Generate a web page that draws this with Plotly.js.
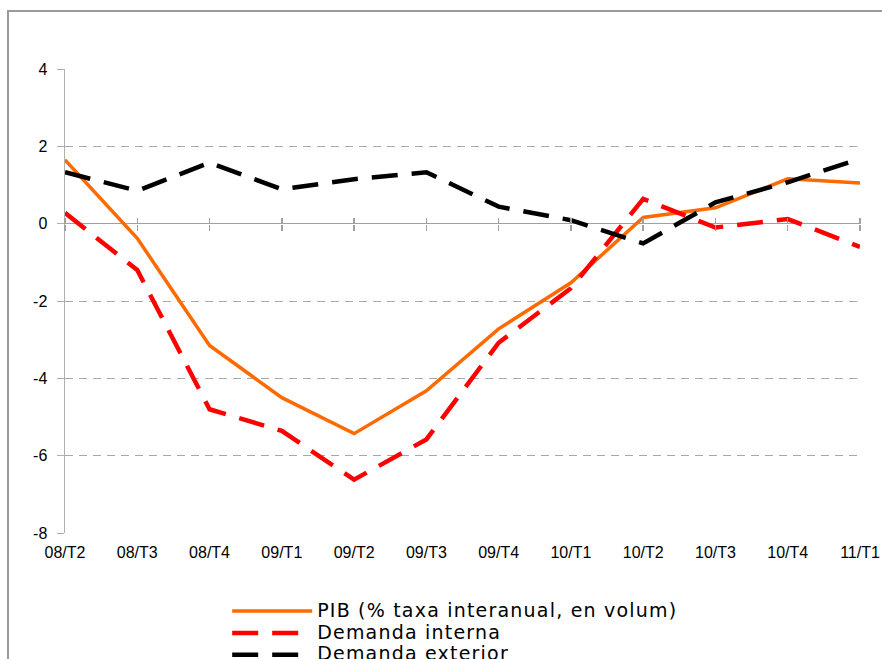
<!DOCTYPE html>
<html>
<head>
<meta charset="utf-8">
<script src="https://cdn.plot.ly/plotly-3.0.1.min.js"></script>
<style>
  html, body { margin: 0; padding: 0; background: #fff; overflow: hidden; }
  #wrap { position: relative; width: 882px; height: 659px; }
  #chart { width: 882px; height: 659px; }
  #frame { position: absolute; left: 7px; top: 10px; width: 900px; height: 700px;
           border-left: 2px solid #9a9a9a; border-top: 2px solid #9a9a9a; pointer-events: none; }
  .legendtext { letter-spacing: 1.2px; font-size: 19px !important; }
</style>
</head>
<body>
<div id="wrap">
  <div id="chart"></div>
  <div id="frame"></div>
</div>
<script>
const categories = ["08/T2","08/T3","08/T4","09/T1","09/T2","09/T3","09/T4","10/T1","10/T2","10/T3","10/T4","11/T1"];
const pib      = [1.65, -0.38, -3.15, -4.50, -5.43, -4.32, -2.72, -1.53, 0.16, 0.41, 1.16, 1.05];
const interna  = [0.28, -1.20, -4.80, -5.36, -6.62, -5.58, -3.08, -1.67, 0.64, -0.10, 0.12, -0.60];
const exterior = [1.33, 0.85, 1.58, 0.89, 1.15, 1.33, 0.44, 0.09, -0.51, 0.55, 1.07, 1.68];
const seriesNames = ["PIB (% taxa interanual, en volum)", "Demanda interna", "Demanda exterior"];
const yTicks = [-8, -6, -4, -2, 0, 2, 4];

const traces = [
  { x: categories, y: pib, name: seriesNames[0], type: "scatter", mode: "lines",
    line: { color: "#ff6a00", width: 3.5 } },
  { x: categories, y: interna, name: seriesNames[1], type: "scatter", mode: "lines",
    line: { color: "#ff0000", width: 4.5, dash: "26px,14px" } },
  { x: categories, y: exterior, name: seriesNames[2], type: "scatter", mode: "lines",
    line: { color: "#000000", width: 4.5, dash: "26px,14px" } }
];

const tickAxis = {
  type: "linear", range: [0, categories.length - 1], dtick: 1, tick0: 0,
  overlaying: "x", anchor: "free", position: 2/3,
  showticklabels: false, showgrid: false, zeroline: false, showline: false,
  ticks: "outside", ticklen: 6, tickwidth: 1.5, tickcolor: "#a0a0a0"
};

const layout = {
  width: 882, height: 659,
  margin: { l: 65, r: 22, t: 69, b: 126, autoexpand: false },
  paper_bgcolor: "#ffffff", plot_bgcolor: "#ffffff",
  showlegend: true,
  legend: {
    x: 0.204, y: -0.134, xanchor: "left", yanchor: "top",
    font: { family: "DejaVu Sans", size: 14.5, color: "#000" },
    tracegroupgap: 0, itemwidth: 80, bgcolor: "rgba(0,0,0,0)"
  },
  xaxis: {
    type: "category", range: [0, categories.length - 1],
    showgrid: false, zeroline: false, showline: false, ticks: "",
    tickfont: { family: "Liberation Sans", size: 16, color: "#000" },
    ticklabelstandoff: 8
  },
  xaxis2: Object.assign({ side: "bottom" }, tickAxis),
  xaxis3: Object.assign({ side: "top" }, tickAxis),
  yaxis: {
    range: [-8, 4], tickvals: yTicks, ticktext: yTicks.map(String),
    showgrid: true, gridcolor: "#a8a8a8", gridwidth: 1, griddash: "8px,6px",
    zeroline: true, zerolinecolor: "#a0a0a0", zerolinewidth: 1.5,
    showline: true, linecolor: "#b0b0b0", linewidth: 1.5,
    ticks: "outside", ticklen: 7, tickcolor: "#b0b0b0", tickwidth: 1,
    tickfont: { family: "Liberation Sans", size: 16, color: "#000" },
    ticklabelstandoff: 6
  }
};

// invisible helper traces so the tick-only axes render
traces.push({ x: [0, categories.length - 1], y: [0, 0], xaxis: "x2", type: "scatter", mode: "lines",
  line: { width: 0 }, hoverinfo: "skip", showlegend: false, opacity: 0 });
traces.push({ x: [0, categories.length - 1], y: [0, 0], xaxis: "x3", type: "scatter", mode: "lines",
  line: { width: 0 }, hoverinfo: "skip", showlegend: false, opacity: 0 });

Plotly.newPlot("chart", traces, layout, { displayModeBar: false, staticPlot: true });
</script>
</body>
</html>
